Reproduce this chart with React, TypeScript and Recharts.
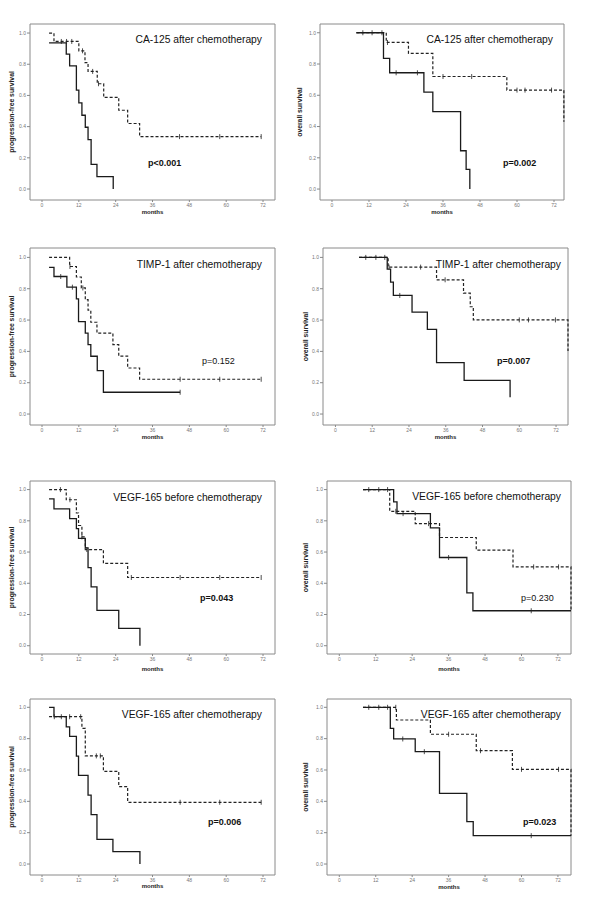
import { ComposedChart, Line, XAxis, YAxis, ReferenceArea } from "recharts";

type Step = [number, number];

// Kaplan-Meier curves as [months, survival] steps; solid = high level, dashed = low level
// CA-125 after chemotherapy
const ca125PfsSolid: Step[] = [[2.3, 0.9375], [7.9, 0.865], [9, 0.79], [11.2, 0.634], [12, 0.552], [13, 0.473], [14.1, 0.396], [15, 0.317], [16, 0.158], [17.9, 0.079], [23.2, 0]];
const ca125PfsSolidCens: number[] = [];
const ca125PfsDashed: Step[] = [[2.3, 1], [3.9, 0.946], [12, 0.886], [14, 0.81], [15, 0.754], [18, 0.675], [20.1, 0.587], [25, 0.505], [27.9, 0.42], [31.8, 0.336], [71.4, 0.336]];
const ca125PfsDashedCens = [6.3, 8, 9.7, 13.2, 16.5, 18.4, 44.8, 57.9, 71.4];

const ca125OsSolid: Step[] = [[7.9, 1], [16.7, 0.836], [18.7, 0.744], [29.8, 0.62], [32.7, 0.495], [41.7, 0.245], [43.5, 0.126], [44.7, 0]];
const ca125OsSolidCens = [10, 13, 16.2, 20.8, 27.7];
const ca125OsDashed: Step[] = [[7.9, 1], [17.6, 0.938], [24.8, 0.868], [32.7, 0.72], [56.7, 0.633], [75.2, 0.43]];
const ca125OsDashedCens = [18, 36, 45.3, 60, 62.6, 71.2];

// TIMP-1 after chemotherapy
const timpPfsSolid: Step[] = [[2.3, 0.936], [3.9, 0.878], [8.1, 0.81], [11.2, 0.735], [11.9, 0.59], [14.1, 0.516], [15, 0.443], [15.9, 0.369], [18, 0.277], [20, 0.139], [45, 0.139]];
const timpPfsSolidCens = [6.1, 9.9, 45];
const timpPfsDashed: Step[] = [[2.3, 1], [9, 0.942], [11.2, 0.875], [12.8, 0.805], [14.1, 0.73], [15, 0.663], [15.9, 0.586], [17.9, 0.516], [23.1, 0.443], [25, 0.37], [27.9, 0.294], [31.8, 0.222], [71.4, 0.222]];
const timpPfsDashedCens = [9.1, 13.3, 45, 57.9, 71.4];

const timpOsSolid: Step[] = [[7.7, 1], [16.9, 0.925], [18, 0.842], [18.9, 0.757], [25, 0.65], [30, 0.54], [33, 0.328], [42, 0.215], [57, 0.107]];
const timpOsSolidCens = [9.9, 13.2, 16.1, 21];
const timpOsDashed: Step[] = [[7.7, 1], [17.2, 0.938], [33, 0.857], [41.8, 0.772], [44, 0.685], [45, 0.601], [75.9, 0.403]];
const timpOsDashedCens = [17.5, 27.8, 35.8, 60, 63, 71.8];

// VEGF-165 before chemotherapy
const vegfBPfsSolid: Step[] = [[2.3, 0.94], [3.9, 0.876], [9, 0.814], [11.2, 0.75], [11.9, 0.687], [14.1, 0.627], [15, 0.5], [16, 0.377], [17.9, 0.226], [25, 0.111], [31.9, 0]];
const vegfBPfsSolidCens: number[] = [];
const vegfBPfsDashed: Step[] = [[2.3, 1], [7.9, 0.935], [11.2, 0.85], [11.9, 0.77], [13, 0.697], [14.1, 0.616], [20, 0.527], [27.9, 0.437], [71.4, 0.437]];
const vegfBPfsDashedCens = [6, 9.1, 13, 14.6, 29.1, 45, 57.9, 71.4];

const vegfBOsSolid: Step[] = [[7.8, 1], [17.9, 0.921], [19, 0.846], [30, 0.755], [33, 0.565], [42, 0.339], [44, 0.224], [76.3, 0.224]];
const vegfBOsSolidCens = [9.7, 13, 15.9, 21, 36, 63.2];
const vegfBOsDashed: Step[] = [[7.8, 1], [16.6, 0.861], [25, 0.782], [33, 0.693], [45.1, 0.612], [57.2, 0.505], [76.3, 0.224]];
const vegfBOsDashedCens = [18.6, 29.4, 64, 72.2];

// VEGF-165 after chemotherapy
const vegfAPfsSolid: Step[] = [[2.3, 1], [3.9, 0.94], [7.9, 0.875], [9, 0.815], [11.2, 0.689], [11.9, 0.566], [15, 0.44], [16, 0.315], [17.9, 0.157], [23.1, 0.079], [31.9, 0]];
const vegfAPfsSolidCens: number[] = [];
const vegfAPfsDashed: Step[] = [[2.3, 0.94], [13, 0.866], [14.1, 0.69], [20, 0.591], [25, 0.494], [27.9, 0.394], [71.4, 0.394]];
const vegfAPfsDashedCens = [4, 6.3, 9, 12.6, 17.7, 19, 45, 57.9, 71.4];

const vegfAOsSolid: Step[] = [[7.8, 1], [16.8, 0.866], [17.9, 0.798], [25, 0.717], [33, 0.451], [42, 0.27], [44.1, 0.181], [76.3, 0.181]];
const vegfAOsSolidCens = [9.7, 13, 15.9, 20.9, 28, 63.2];
const vegfAOsDashed: Step[] = [[7.8, 1], [18.8, 0.919], [30, 0.828], [45.1, 0.723], [57, 0.604], [76.3, 0.181]];
const vegfAOsDashedCens = [18.6, 36, 46.5, 60, 72.2];

const monthTicks = [0, 12, 24, 36, 48, 60, 72];
const survTicks = [0, 0.2, 0.4, 0.6, 0.8, 1.0];

const FONT = "'Liberation Sans', Arial, sans-serif";

const toPoints = (steps: Step[]) => steps.map(([x, y]) => ({ x, y }));

// survival value of the step curve at time t (for placing censor marks)
const survAt = (steps: Step[], t: number) => {
  let s = steps[0][1];
  for (const [x, y] of steps) if (x <= t) s = y;
  return s;
};

const censorPoints = (steps: Step[], times: number[]) =>
  times.map((t) => ({ x: t, y: survAt(steps, t) }));

const CensorMark = (props: any) => {
  const { cx, cy, index } = props;
  if (cx == null || cy == null) return <g key={index} />;
  return <line key={index} x1={cx} x2={cx} y1={cy - 2.5} y2={cy + 2.5} stroke="#222" strokeWidth={0.8} />;
};

type PanelProps = {
  left: number;
  top: number;
  width: number;
  height: number;
  box: [number, number, number, number];
  xDomain: [number, number];
  yDomain: [number, number];
  yLabel: string;
  yLabelOffset: number;
  monthsOffset: number;
  title: string;
  titleRight: number;
  titleY: number;
  p: string;
  pBold: boolean;
  pX: number;
  pY: number;
  solid: Step[];
  solidCens: number[];
  dashed: Step[];
  dashedCens: number[];
};

function KmPanel(props: PanelProps) {
  const { left, top, width, height, box, xDomain, yDomain } = props;
  const [bx0, by0, bx1, by1] = box;
  return (
    <>
      <div style={{ position: "absolute", left, top, width, height }}>
        <ComposedChart
          width={width}
          height={height}
          margin={{ top: by0 - top, right: left + width - bx1, bottom: 0, left: 0 }}
        >
          <ReferenceArea
            x1={xDomain[0]}
            x2={xDomain[1]}
            y1={yDomain[0]}
            y2={yDomain[1]}
            fill="none"
            fillOpacity={0}
            stroke="#8a8a8a"
            strokeWidth={1}
          />
          <XAxis
            type="number"
            dataKey="x"
            domain={xDomain}
            ticks={monthTicks}
            height={top + height - by1}
            axisLine={false}
            tickSize={2}
            tickMargin={1}
            tickLine={{ stroke: "#888" }}
            tick={{ fontSize: 5, fill: "#777", fontFamily: FONT }}
            label={{
              value: "months",
              position: "insideBottom",
              offset: props.monthsOffset,
              style: { fontSize: 6, fontWeight: "bold", fill: "#222", fontFamily: FONT },
            }}
          />
          <YAxis
            type="number"
            dataKey="y"
            domain={yDomain}
            ticks={survTicks}
            width={bx0 - left}
            axisLine={false}
            tickSize={3}
            tickMargin={1}
            tickLine={{ stroke: "#888" }}
            tickFormatter={(v: number) => v.toFixed(1)}
            tick={{ fontSize: 5, fill: "#777", fontFamily: FONT }}
            label={{
              value: props.yLabel,
              angle: -90,
              position: "insideLeft",
              offset: props.yLabelOffset,
              style: { textAnchor: "middle", fontSize: 6.8, fontWeight: "bold", fill: "#222", fontFamily: FONT },
            }}
          />
          <Line
            data={toPoints(props.dashed)}
            dataKey="y"
            type="stepAfter"
            stroke="#222"
            strokeWidth={1.2}
            strokeDasharray="3 2"
            dot={false}
            activeDot={false}
            isAnimationActive={false}
          />
          <Line
            data={toPoints(props.solid)}
            dataKey="y"
            type="stepAfter"
            stroke="#1a1a1a"
            strokeWidth={1.3}
            dot={false}
            activeDot={false}
            isAnimationActive={false}
          />
          <Line
            data={censorPoints(props.dashed, props.dashedCens)}
            dataKey="y"
            stroke="none"
            dot={CensorMark}
            activeDot={false}
            isAnimationActive={false}
          />
          <Line
            data={censorPoints(props.solid, props.solidCens)}
            dataKey="y"
            stroke="none"
            dot={CensorMark}
            activeDot={false}
            isAnimationActive={false}
          />
        </ComposedChart>
      </div>
      <div
        style={{
          position: "absolute",
          right: 600 - props.titleRight,
          top: props.titleY - 5.5,
          fontSize: 10.3,
          lineHeight: "11px",
          fontFamily: FONT,
          color: "#111",
          whiteSpace: "nowrap",
        }}
      >
        {props.title}
      </div>
      <div
        style={{
          position: "absolute",
          left: props.pX,
          top: props.pY - 5,
          fontSize: 9,
          lineHeight: "10px",
          fontWeight: props.pBold ? "bold" : "normal",
          fontFamily: FONT,
          color: "#111",
          whiteSpace: "nowrap",
        }}
      >
        {props.p}
      </div>
    </>
  );
}

const PFS = "progression-free survival";
const OS = "overall survival";

const panels: PanelProps[] = [
  {
    left: 0, top: 0, width: 300, height: 225, box: [30, 24, 275, 200],
    xDomain: [-3.91, 75.9], yDomain: [-0.0705, 1.058], yLabel: PFS, yLabelOffset: 12, monthsOffset: 11,
    title: "CA-125 after chemotherapy", titleRight: 262, titleY: 39,
    p: "p<0.001", pBold: true, pX: 148, pY: 163,
    solid: ca125PfsSolid, solidCens: ca125PfsSolidCens, dashed: ca125PfsDashed, dashedCens: ca125PfsDashedCens,
  },
  {
    left: 290, top: 0, width: 310, height: 225, box: [320, 24, 564, 200],
    xDomain: [-3.89, 75.24], yDomain: [-0.07, 1.056], yLabel: OS, yLabelOffset: 10, monthsOffset: 11,
    title: "CA-125 after chemotherapy", titleRight: 553, titleY: 39,
    p: "p=0.002", pBold: true, pX: 503, pY: 163,
    solid: ca125OsSolid, solidCens: ca125OsSolidCens, dashed: ca125OsDashed, dashedCens: ca125OsDashedCens,
  },
  {
    left: 0, top: 225, width: 300, height: 225, box: [30, 248, 275, 425],
    xDomain: [-3.91, 75.9], yDomain: [-0.07, 1.06], yLabel: PFS, yLabelOffset: 12, monthsOffset: 11,
    title: "TIMP-1 after chemotherapy", titleRight: 262, titleY: 264.5,
    p: "p=0.152", pBold: false, pX: 202, pY: 361,
    solid: timpPfsSolid, solidCens: timpPfsSolidCens, dashed: timpPfsDashed, dashedCens: timpPfsDashedCens,
  },
  {
    left: 290, top: 225, width: 310, height: 225, box: [323, 248, 568, 425],
    xDomain: [-4.06, 75.9], yDomain: [-0.07, 1.06], yLabel: OS, yLabelOffset: 16, monthsOffset: 11,
    title: "TIMP-1 after chemotherapy", titleRight: 561, titleY: 264,
    p: "p=0.007", pBold: true, pX: 497, pY: 361,
    solid: timpOsSolid, solidCens: timpOsSolidCens, dashed: timpOsDashed, dashedCens: timpOsDashedCens,
  },
  {
    left: 0, top: 450, width: 300, height: 225, box: [30, 481, 275, 654],
    xDomain: [-3.91, 75.9], yDomain: [-0.053, 1.055], yLabel: PFS, yLabelOffset: 12, monthsOffset: 4,
    title: "VEGF-165 before chemotherapy", titleRight: 262, titleY: 497,
    p: "p=0.043", pBold: true, pX: 200, pY: 598,
    solid: vegfBPfsSolid, solidCens: vegfBPfsSolidCens, dashed: vegfBPfsDashed, dashedCens: vegfBPfsDashedCens,
  },
  {
    left: 290, top: 450, width: 310, height: 225, box: [327, 481, 571, 654],
    xDomain: [-4.05, 76.3], yDomain: [-0.053, 1.055], yLabel: OS, yLabelOffset: 16, monthsOffset: 4,
    title: "VEGF-165 before chemotherapy", titleRight: 561, titleY: 496,
    p: "p=0.230", pBold: false, pX: 521, pY: 598,
    solid: vegfBOsSolid, solidCens: vegfBOsSolidCens, dashed: vegfBOsDashed, dashedCens: vegfBOsDashedCens,
  },
  {
    left: 0, top: 675, width: 300, height: 224, box: [30, 699, 275, 875],
    xDomain: [-3.91, 75.9], yDomain: [-0.07, 1.053], yLabel: PFS, yLabelOffset: 12, monthsOffset: 11,
    title: "VEGF-165 after chemotherapy", titleRight: 262, titleY: 714,
    p: "p=0.006", pBold: true, pX: 208, pY: 822,
    solid: vegfAPfsSolid, solidCens: vegfAPfsSolidCens, dashed: vegfAPfsDashed, dashedCens: vegfAPfsDashedCens,
  },
  {
    left: 290, top: 675, width: 310, height: 224, box: [327, 699, 571, 875],
    xDomain: [-4.05, 76.3], yDomain: [-0.07, 1.053], yLabel: OS, yLabelOffset: 16, monthsOffset: 10,
    title: "VEGF-165 after chemotherapy", titleRight: 561, titleY: 714,
    p: "p=0.023", pBold: true, pX: 523, pY: 822,
    solid: vegfAOsSolid, solidCens: vegfAOsSolidCens, dashed: vegfAOsDashed, dashedCens: vegfAOsDashedCens,
  },
];

export default function App() {
  return (
    <div style={{ position: "absolute", left: 0, top: 0, width: 600, height: 899, background: "#fff", overflow: "hidden" }}>
      {panels.map((p, i) => (
        <KmPanel key={i} {...p} />
      ))}
    </div>
  );
}
